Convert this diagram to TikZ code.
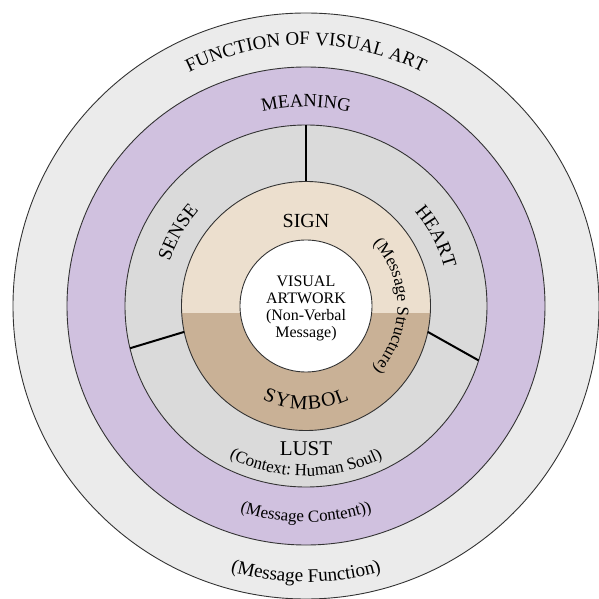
\documentclass[tikz,border=0pt]{standalone}
\usepackage{fontspec}
\setmainfont{Liberation Serif}
\usepackage{xcolor}
\usetikzlibrary{decorations.text}

\definecolor{outerring}{HTML}{EBEBEB}
\definecolor{meaningring}{HTML}{D0C1DF}
\definecolor{sensering}{HTML}{DADADA}
\definecolor{signtan}{HTML}{ECDFCE}
\definecolor{symboltan}{HTML}{C9B196}

\newcommand{\ringfont}{\fontsize{9.7}{11}\selectfont}
\newcommand{\notefont}{\fontsize{8.5}{10}\selectfont}
\newcommand{\artfont}{\fontsize{8}{8.5}\selectfont}

\begin{document}
\begin{tikzpicture}[
  x=0.5pt, y=0.5pt,
  ring/.style={draw=black!80, line width=0.45pt},
  divider/.style={draw=black, line width=1pt},
  arctext/.style={
    decorate,
    decoration={text along path, text align=center, text={#1}}
  }
]
\useasboundingbox (-306,-293) rectangle (293,306);

% ===== RINGS (OUTSIDE IN) =====
\path[ring, fill=outerring] (0,0) circle[radius=293];
\path[ring, fill=meaningring] (0,0) circle[radius=239];
\path[ring, fill=sensering] (0,0) circle[radius=181];

\begin{scope}
  \clip (0,0) circle[radius=124.5];
  \fill[signtan] (-130,-7) rectangle (130,130);
  \fill[symboltan] (-130,-7) rectangle (130,-130);
\end{scope}
\path[ring] (0,0) circle[radius=124.5];
\path[ring, fill=white] (0,0) circle[radius=66];

% ===== DIVIDERS OF THE SENSE / HEART / LUST RING =====
\coordinate (top-out) at (90:181);
\coordinate (top-in) at (90:124.5);
\coordinate (left-out) at (193.5:181);
\coordinate (left-in) at (192:124.5);
\coordinate (right-out) at (-17.5:181);
\coordinate (right-in) at (-12:124.5);

\draw[divider] (top-out) -- (top-in);
\draw[divider] (left-out) -- (left-in);
\draw[divider] (right-out) -- (right-in);

% ===== CENTRE =====
\node[align=center, font=\artfont, inner sep=0pt] (artwork) at (0,-2) {
  VISUAL\\ARTWORK\\(Non-Verbal\\Message)
};

\node[anchor=base, font=\fontsize{10}{11}\selectfont, inner sep=0pt] (sign) at (0,78) {SIGN};
\node[anchor=base, font=\fontsize{10.5}{11}\selectfont, inner sep=0pt] (lust) at (0,-149) {LUST};

% ===== CURVED LABELS, TOP HALF (CLOCKWISE) =====
\path[arctext={|\fontsize{9.5}{11}\selectfont|FUNCTION OF VISUAL ART}]
  (150:261) arc[start angle=150, end angle=30, radius=261];
\path[arctext={|\fontsize{9.3}{11}\selectfont|MEANING}]
  (130:199) arc[start angle=130, end angle=50, radius=199];
\path[arctext={|\ringfont|SENSE}]
  (190:143.5) arc[start angle=190, end angle=110, radius=143.5];
\path[arctext={|\ringfont|HEART}]
  (68:143.5) arc[start angle=68, end angle=-12, radius=143.5];
\path[arctext={|\notefont|(Message Structure)}]
  (70:91.5) arc[start angle=70, end angle=-70, radius=91.5];

% ===== CURVED LABELS, BOTTOM HALF (COUNTER-CLOCKWISE) =====
\path[decorate, decoration={text along path, text align=fit to path,
    text={|\fontsize{10}{11}\selectfont|SYMBOL}}]
  (245:103) arc[start angle=245, end angle=295, radius=103];
\path[arctext={|\notefont|(Context: Human Soul)}]
  (220:170) arc[start angle=220, end angle=320, radius=170];
\path[arctext={|\notefont|(Message Content))}]
  (230:216) arc[start angle=230, end angle=310, radius=216];
\path[arctext={|\fontsize{9.6}{11}\selectfont|(Message Function)}]
  (240:276) arc[start angle=240, end angle=300, radius=276];

\end{tikzpicture}
\end{document}
